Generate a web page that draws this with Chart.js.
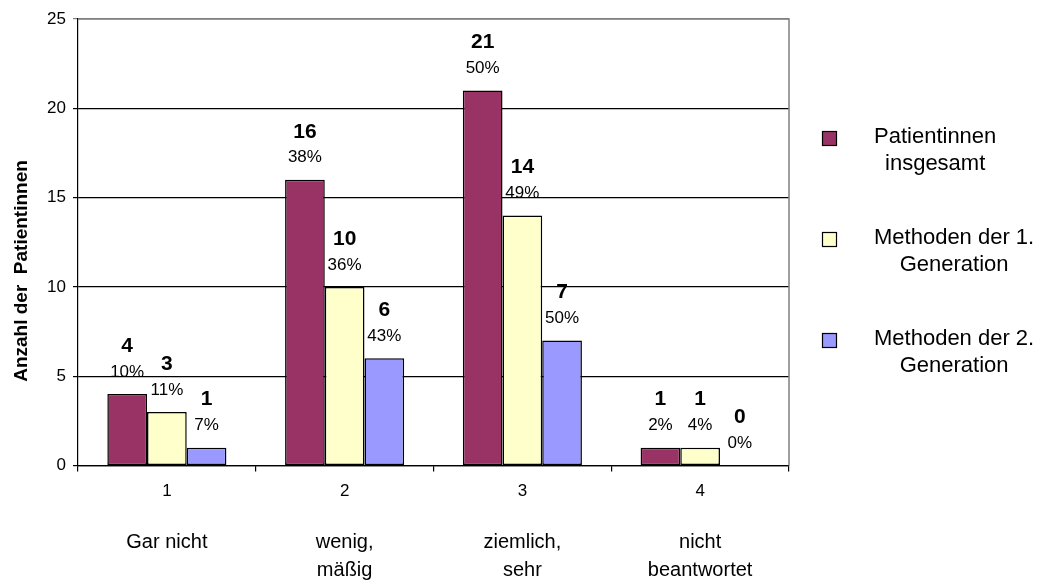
<!DOCTYPE html>
<html>
<head>
<meta charset="utf-8">
<script src="https://cdn.jsdelivr.net/npm/chart.js@4.4.1/dist/chart.umd.min.js"></script>
<style>
  html, body { margin: 0; padding: 0; background: #fff; }
  #wrap { width: 1045px; height: 580px; }
</style>
</head>
<body>
<div id="wrap"><canvas id="bar-chart" width="1045" height="580"></canvas></div>
<script>
const categories = ['1', '2', '3', '4'];
const categoryNames = [['Gar nicht'], ['wenig,', 'mäßig'], ['ziemlich,', 'sehr'], ['nicht', 'beantwortet']];
const seriesNames = [['Patientinnen', 'insgesamt'], ['Methoden der 1.', 'Generation'], ['Methoden der 2.', 'Generation']];
const totalValues = [4, 16, 21, 1];
const gen1Values = [3, 10, 14, 1];
const gen2Values = [1, 6, 7, 0];
const totalPct = [10, 38, 50, 2];
const gen1Pct = [11, 36, 49, 4];
const gen2Pct = [7, 43, 50, 0];
const yTicks = [0, 5, 10, 15, 20, 25];
const yTitle = 'Anzahl der  Patientinnen';

const FONT = '"Liberation Sans", Arial, sans-serif';

// bold count + percentage above each bar
const barLabels = {
  id: 'barLabels',
  afterDatasetsDraw(chart) {
    const ctx = chart.ctx;
    ctx.save();
    ctx.fillStyle = '#000';
    ctx.textAlign = 'center';
    ctx.textBaseline = 'middle';
    chart.data.datasets.forEach((ds, i) => {
      chart.getDatasetMeta(i).data.forEach((bar, j) => {
        ctx.font = 'bold 21px ' + FONT;
        ctx.fillText(String(ds.data[j]), bar.x, bar.y - 48);
        ctx.font = '17px ' + FONT;
        ctx.fillText(ds.pct[j] + '%', bar.x, bar.y - 22);
      });
    });
    ctx.restore();
  }
};

// gray plot frame on top and right, rotated axis title
const frame = {
  id: 'frame',
  beforeDatasetsDraw(chart) {
    const { ctx, chartArea: a } = chart;
    ctx.save();
    ctx.strokeStyle = '#808080';
    ctx.lineWidth = 1.5;
    ctx.beginPath();
    ctx.moveTo(a.left, a.top);
    ctx.lineTo(a.right, a.top);
    ctx.lineTo(a.right, a.bottom);
    ctx.stroke();
    ctx.translate(22, a.top + 252);
    ctx.rotate(-Math.PI / 2);
    ctx.fillStyle = '#000';
    ctx.font = 'bold 19px ' + FONT;
    ctx.textAlign = 'center';
    ctx.textBaseline = 'middle';
    ctx.fillText(yTitle, 0, 0);
    ctx.restore();
  }
};

// legend with wrapped, centred text
const sideLegend = {
  id: 'sideLegend',
  afterDraw(chart) {
    const { ctx, chartArea: a } = chart;
    ctx.save();
    ctx.font = '22px ' + FONT;
    ctx.textBaseline = 'middle';
    ctx.textAlign = 'center';
    chart.data.datasets.forEach((ds, i) => {
      const y = a.top + 118 + i * 101;
      ctx.fillStyle = ds.backgroundColor;
      ctx.fillRect(a.right + 33, y - 6, 14, 14);
      ctx.strokeStyle = '#000';
      ctx.lineWidth = 1.2;
      ctx.strokeRect(a.right + 33.5, y - 5.5, 14, 14);
      const lines = seriesNames[i];
      const w = Math.max(...lines.map(l => ctx.measureText(l).width));
      const cx = a.right + 85 + w / 2;
      ctx.fillStyle = '#000';
      lines.forEach((l, k) => ctx.fillText(l, cx, y + k * 27));
    });
    ctx.restore();
  }
};

const el = document.getElementById('bar-chart');
const chart = new Chart(el, {
  type: 'bar',
  data: {
    labels: categories,
    datasets: [
      { label: 'Patientinnen insgesamt', data: totalValues, pct: totalPct, backgroundColor: '#993366' },
      { label: 'Methoden der 1. Generation', data: gen1Values, pct: gen1Pct, backgroundColor: '#FFFFCC' },
      { label: 'Methoden der 2. Generation', data: gen2Values, pct: gen2Pct, backgroundColor: '#9999FF' },
    ].map(d => Object.assign(d, {
      borderColor: '#000',
      borderWidth: 1.5,
      borderSkipped: false,
      categoryPercentage: 0.67,
      barPercentage: 1.0,
    })),
  },
  options: {
    responsive: false,
    animation: false,
    devicePixelRatio: 1,
    layout: { padding: { top: 19, right: 256, left: 0, bottom: 0 } },
    plugins: {
      legend: { display: false },
      tooltip: { enabled: false },
    },
    scales: {
      x: {
        type: 'category',
        position: 'bottom',
        grid: { offset: true, drawOnChartArea: false, drawTicks: true, tickLength: 6, color: '#000', lineWidth: 1.2 },
        border: { color: '#000', width: 1.2 },
        ticks: { color: '#000', font: { family: FONT, size: 17 }, padding: 10 },
        afterFit(scale) { scale.height = 40; },
      },
      x2: {
        type: 'category',
        position: 'bottom',
        labels: categoryNames,
        grid: { display: false },
        border: { display: false },
        ticks: { color: '#000', font: { family: FONT, size: 20, lineHeight: 1.4 }, padding: 15 },
        afterFit(scale) { scale.height = 74.5; },
      },
      y: {
        min: 0,
        max: 25,
        afterBuildTicks(scale) { scale.ticks = yTicks.map(v => ({ value: v })); },
        grid: {
          color: c => (c.tick && c.tick.value === 25 ? '#808080' : '#000'),
          tickLength: 5,
          lineWidth: 1.2,
        },
        border: { color: '#000', width: 1.2 },
        ticks: { color: '#000', font: { family: FONT, size: 17 }, padding: 7 },
        afterFit(scale) { scale.width = 78; },
      },
    },
  },
  plugins: [frame, barLabels, sideLegend],
});
</script>
</body>
</html>
